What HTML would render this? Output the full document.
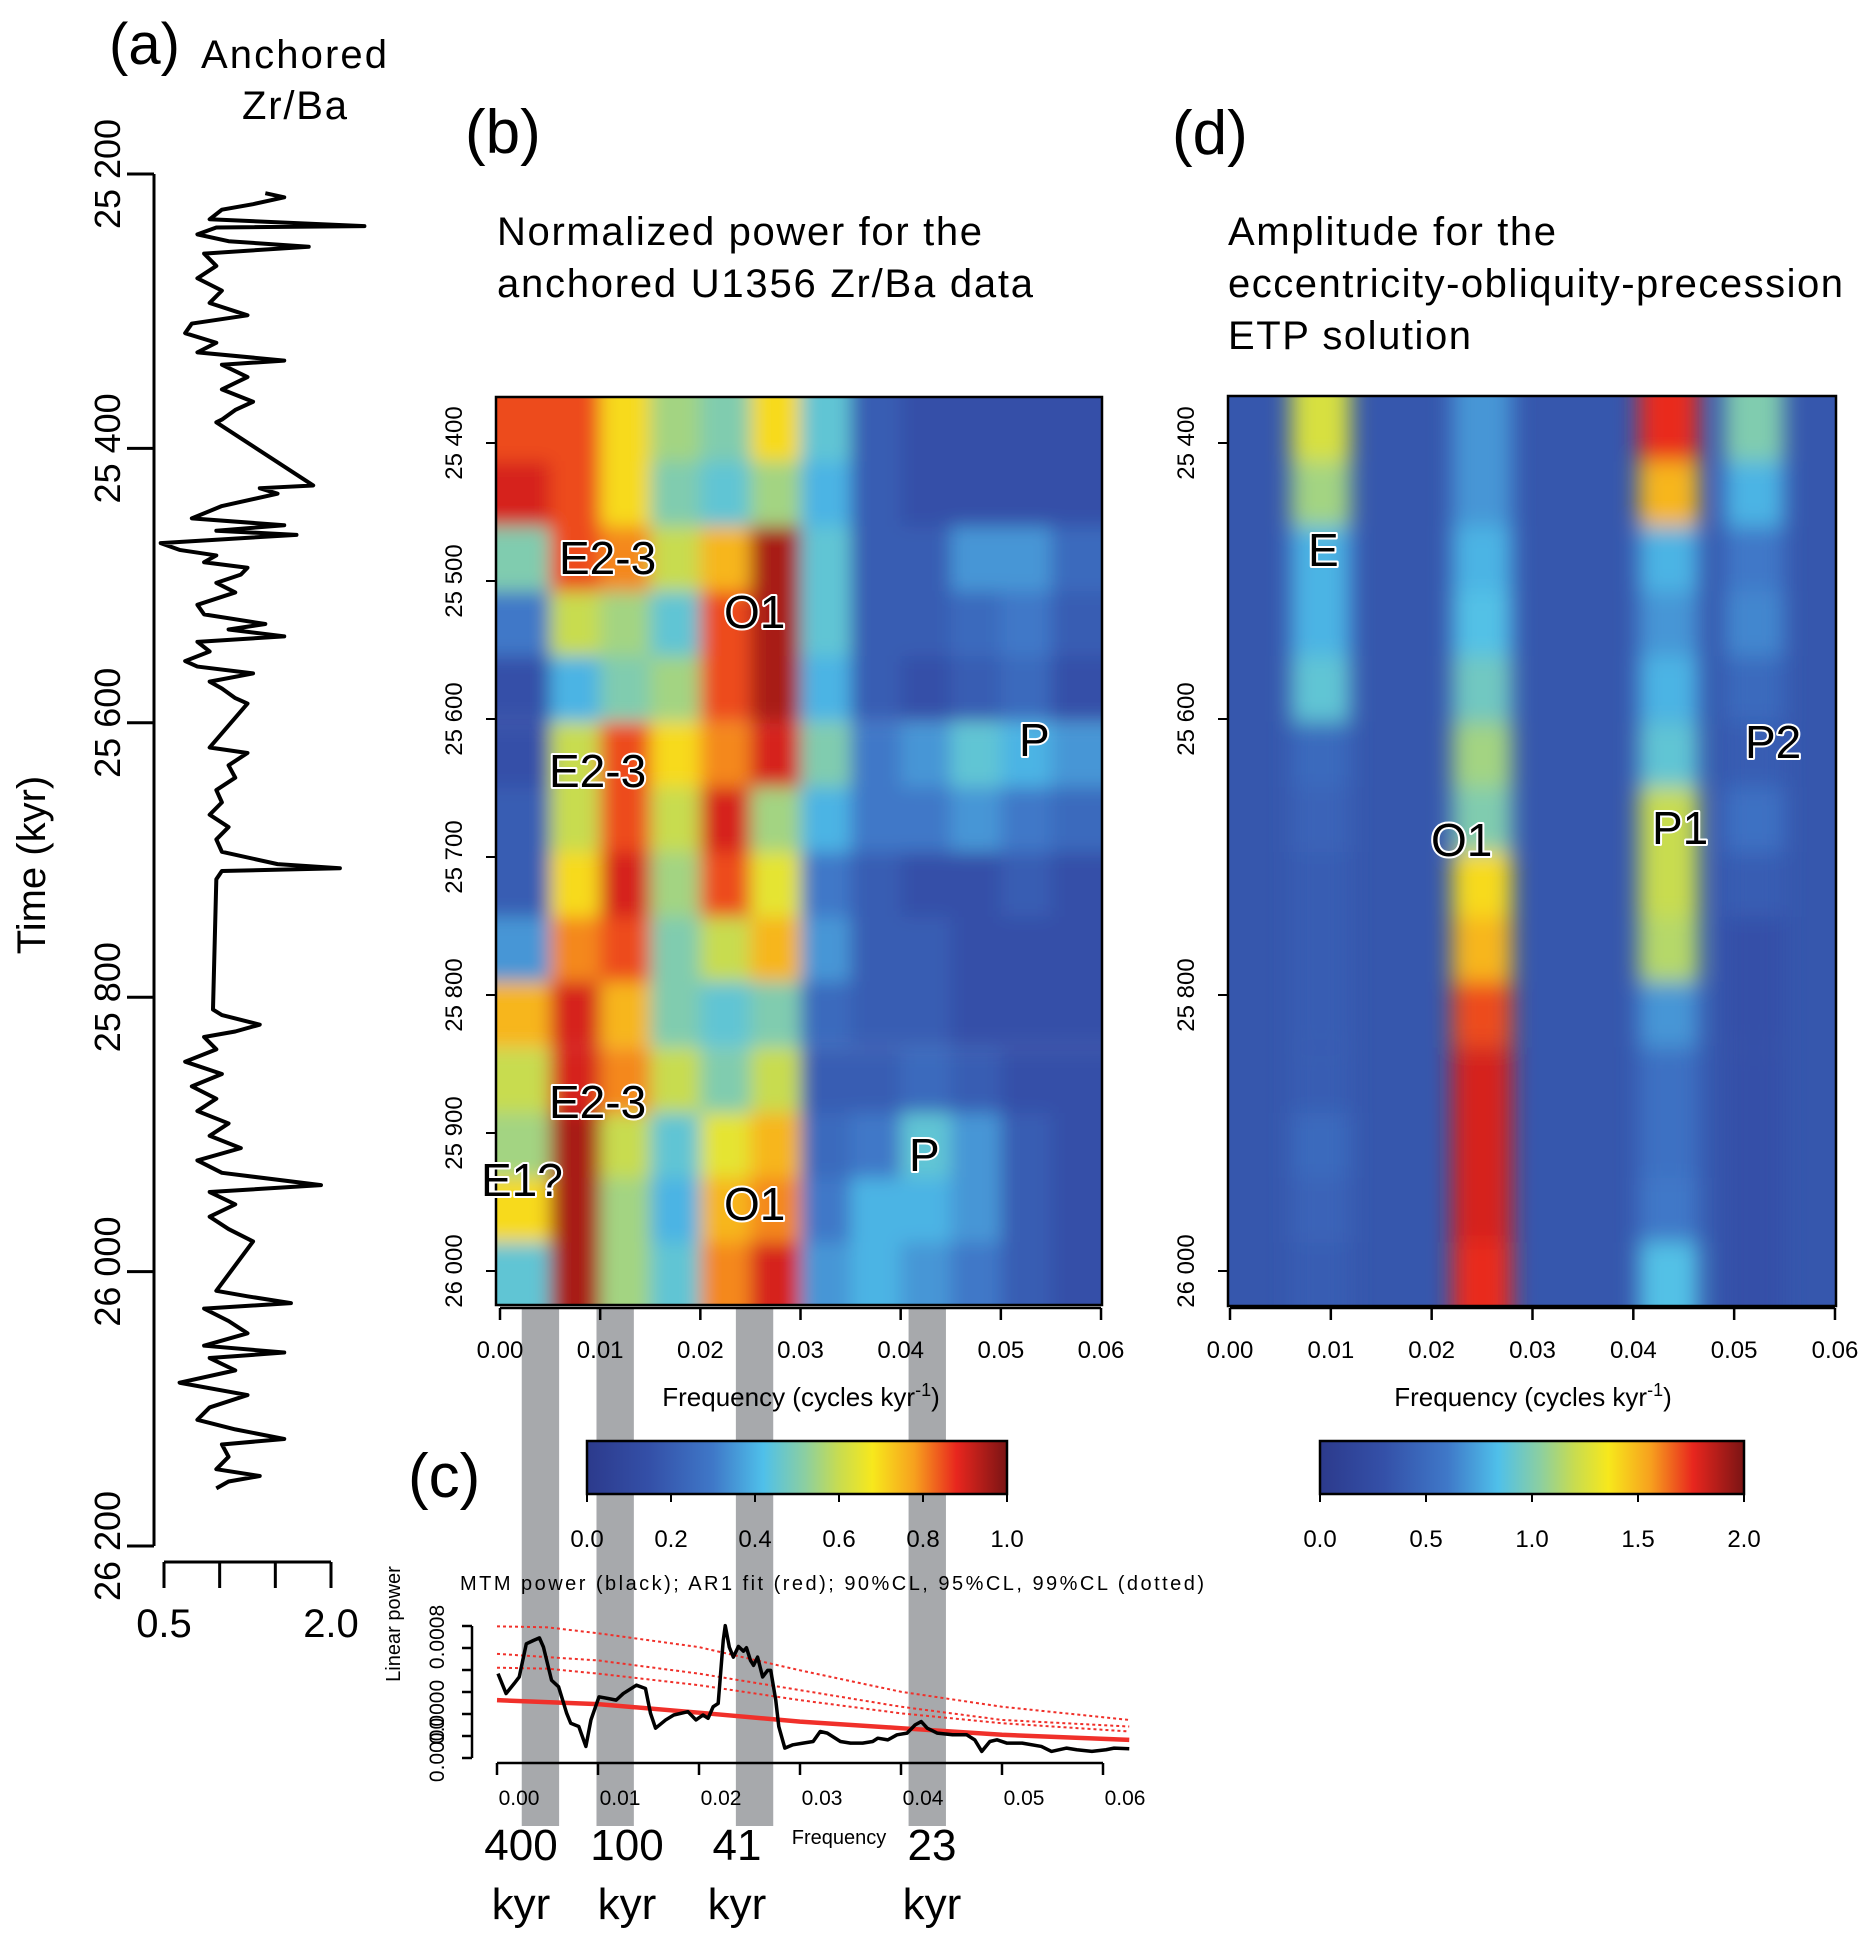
<!DOCTYPE html>
<html><head><meta charset="utf-8"><style>
html,body{margin:0;padding:0;background:#fff}
svg{display:block}
text{font-family:"Liberation Sans",sans-serif;fill:#000}
.lab{font-size:46px;stroke:#fff;stroke-width:4px;paint-order:stroke;stroke-linejoin:round}
</style></head><body>
<svg id="fig" xmlns="http://www.w3.org/2000/svg" width="1874" height="1942" viewBox="0 0 1874 1942">
<defs>
<filter id="blurB" x="-5%" y="-5%" width="110%" height="110%"><feGaussianBlur stdDeviation="9"/></filter>
<filter id="blurD" x="-5%" y="-5%" width="110%" height="110%"><feGaussianBlur stdDeviation="11"/></filter>
<clipPath id="clipB"><rect x="496" y="397" width="606" height="908"/></clipPath>
<clipPath id="clipD"><rect x="1228" y="396" width="608" height="910"/></clipPath>
<linearGradient id="cmap" x1="0" x2="1" y1="0" y2="0">
<stop offset="0" stop-color="#2c3a8c"/><stop offset="0.15" stop-color="#3450a8"/><stop offset="0.3" stop-color="#3f78c8"/><stop offset="0.42" stop-color="#4fc0ea"/><stop offset="0.52" stop-color="#8ccfa0"/><stop offset="0.6" stop-color="#c8dc50"/><stop offset="0.68" stop-color="#f7e81c"/><stop offset="0.78" stop-color="#f7a01e"/><stop offset="0.88" stop-color="#e8261e"/><stop offset="1" stop-color="#7a1414"/>
</linearGradient>
</defs>
<g id="bars"></g>

<!-- panel a text -->
<text x="109" y="64" font-size="58">(a)</text>
<text x="201" y="68" font-size="40" textLength="186">Anchored</text>
<text x="242" y="119" font-size="40" textLength="105">Zr/Ba</text>
<text x="0" y="0" font-size="40" text-anchor="middle" transform="translate(45,865) rotate(-90)">Time (kyr)</text>

<!-- panel b text -->
<text x="465" y="153" font-size="62">(b)</text>
<text x="497" y="245" font-size="40" textLength="485">Normalized power for the</text>
<text x="497" y="297" font-size="40" textLength="536">anchored U1356 Zr/Ba data</text>
<text x="801" y="1406" font-size="26" text-anchor="middle">Frequency (cycles kyr<tspan dy="-10" font-size="18">-1</tspan><tspan dy="10">)</tspan></text>

<!-- panel d text -->
<text x="1172" y="154" font-size="62">(d)</text>
<text x="1228" y="245" font-size="40" textLength="328">Amplitude for the</text>
<text x="1228" y="297" font-size="40" textLength="615">eccentricity-obliquity-precession</text>
<text x="1228" y="349" font-size="40" textLength="243">ETP solution</text>
<text x="1533" y="1406" font-size="26" text-anchor="middle">Frequency (cycles kyr<tspan dy="-10" font-size="18">-1</tspan><tspan dy="10">)</tspan></text>

<!-- panel c text -->
<text x="408" y="1497" font-size="62">(c)</text>
<text x="460" y="1590" font-size="20" textLength="744">MTM power (black); AR1 fit (red); 90%CL, 95%CL, 99%CL (dotted)</text>
<text x="0" y="0" font-size="20" text-anchor="middle" transform="translate(400,1624) rotate(-90)">Linear power</text>
<text x="0" y="0" font-size="21" text-anchor="middle" transform="translate(444,1637) rotate(-90)">0.0008</text>
<text x="0" y="0" font-size="21" text-anchor="middle" transform="translate(444,1712) rotate(-90)">0.0000</text>
<text x="0" y="0" font-size="21" text-anchor="middle" transform="translate(444,1750) rotate(-90)">0.0000</text>
<g id="layer"></g>
</svg>
<script>
// ---------- data ----------
const aTime=[25214,25217,25222,25226,25233,25238,25239,25244,25249,25253,25258,25267,25276,25285,25294,25303,25309,25316,25323,25330,25336,25339,25348,25357,25366,25372,25379,25381,25427,25429,25433,25442,25451,25456,25460,25463,25469,25474,25478,25483,25487,25492,25498,25505,25514,25521,25528,25532,25537,25541,25548,25555,25559,25564,25570,25575,25582,25586,25618,25622,25631,25640,25649,25658,25667,25676,25685,25694,25703,25706,25708,25714,25809,25813,25820,25825,25829,25838,25847,25856,25865,25874,25883,25892,25901,25910,25919,25928,25937,25942,25951,25960,25969,25978,26014,26018,26023,26027,26036,26045,26054,26059,26063,26072,26081,26090,26099,26108,26115,26122,26126,26135,26144,26149,26153,26158];
const aZrBa=[1.41,1.58,1.30,1.02,0.91,2.30,0.97,0.80,1.08,1.80,0.86,0.97,0.80,1.02,0.91,1.25,0.75,0.69,0.97,0.80,1.58,1.02,1.25,1.02,1.30,1.14,1.02,0.97,1.84,1.36,1.52,1.02,0.75,1.58,0.97,1.69,0.47,0.64,0.97,0.86,1.25,1.19,0.97,1.14,0.80,0.86,1.41,1.08,1.58,0.80,0.91,0.69,0.80,1.30,0.91,1.02,1.14,1.25,0.91,1.25,1.08,1.14,0.97,1.02,0.91,1.08,0.97,1.02,1.52,2.08,1.02,0.97,0.94,1.02,1.36,1.14,0.86,0.97,0.69,1.02,0.75,0.97,0.80,1.08,0.91,1.19,0.80,1.02,1.91,0.91,1.14,0.91,1.08,1.30,0.97,1.25,1.64,0.86,1.08,1.25,0.86,1.58,0.91,1.14,0.64,1.25,0.91,0.80,1.14,1.58,1.02,1.08,0.97,1.36,1.08,0.97];
const aTicks=[25200,25400,25600,25800,26000,26200];
const aTickLabels=["25 200","25 400","25 600","25 800","26 000","26 200"];
const aValTicks=[0.5,1.0,1.5,2.0];

const bFreq=[0.0025,0.0075,0.0125,0.0175,0.0225,0.0275,0.0325,0.0375,0.0425,0.0475,0.0525,0.0575];
const bTime=[25390,25437,25484,25531,25578,25626,25673,25720,25767,25814,25862,25909,25956,26003];
const bPower=[
[.85,.85,.7,.55,.5,.7,.45,.2,.15,.15,.15,.15],
[.9,.85,.7,.5,.45,.55,.4,.2,.15,.15,.15,.15],
[.5,.85,.8,.6,.75,.95,.45,.2,.2,.35,.35,.25],
[.3,.6,.55,.45,.85,.95,.45,.2,.2,.25,.3,.2],
[.15,.4,.5,.55,.85,.95,.4,.2,.15,.2,.25,.15],
[.15,.6,.85,.7,.8,.9,.5,.3,.35,.45,.4,.35],
[.2,.6,.85,.6,.9,.55,.4,.3,.3,.35,.3,.25],
[.2,.7,.9,.55,.85,.65,.3,.2,.15,.15,.2,.15],
[.35,.8,.85,.5,.6,.75,.35,.2,.2,.15,.15,.15],
[.75,.9,.75,.5,.45,.5,.25,.2,.2,.15,.15,.15],
[.6,.9,.8,.6,.5,.6,.2,.2,.25,.2,.15,.15],
[.55,.95,.6,.45,.65,.75,.25,.3,.45,.35,.2,.15],
[.7,.95,.55,.4,.75,.8,.3,.4,.4,.35,.2,.15],
[.45,.95,.55,.45,.8,.9,.35,.4,.35,.3,.2,.15]];
const bTicks=[25400,25500,25600,25700,25800,25900,26000];
const bTickLabels=["25 400","25 500","25 600","25 700","25 800","25 900","26 000"];
const freqTicks=[0,0.01,0.02,0.03,0.04,0.05,0.06];
const freqTickLabels=["0.00","0.01","0.02","0.03","0.04","0.05","0.06"];

const dBandFreq=[0.009,0.025,0.0435,0.052];
const dBandNames=["E","O1","P1","P2"];
const dBackground=0.35;
const dAmpE=[1.25,1.1,0.8,0.8,0.9,0.5,0.45,0.4,0.4,0.4,0.4,0.5,0.45,0.4];
const dAmpO1=[0.7,0.7,0.8,0.85,0.95,1.1,1.0,1.4,1.5,1.7,1.8,1.8,1.8,1.75];
const dAmpP1=[1.75,1.5,0.8,0.7,0.8,0.9,1.2,1.2,1.15,0.7,0.55,0.55,0.6,0.85];
const dAmpP2=[1.0,0.8,0.6,0.65,0.5,0.4,0.55,0.4,0.3,0.3,0.3,0.3,0.3,0.3];
const dTicks=[25400,25600,25800,26000];
const dTickLabels=["25 400","25 600","25 800","26 000"];

const cFreq=[.0001,.0009,.0017,.0022,.0029,.0036,.0042,.0046,.0054,.0061,.0069,.0073,.0081,.0088,.0093,.0101,.0110,.0118,.0125,.0138,.0147,.0152,.0157,.0167,.0175,.0189,.0197,.0204,.0209,.0214,.0219,.0224,.0226,.0230,.0234,.0239,.0244,.0247,.0251,.0254,.0258,.0263,.0268,.0271,.0276,.0279,.0285,.0293,.0303,.0313,.0320,.0327,.0340,.0350,.0362,.0372,.0377,.0387,.0396,.0406,.0414,.0420,.0426,.0436,.0451,.0465,.0473,.0480,.0488,.0495,.0505,.0520,.0539,.0549,.0564,.0574,.0589,.0603,.0611,.0626];
const cPower=[7.67,5.86,6.77,7.37,10.38,10.68,10.92,10.08,7.07,6.47,4.06,3.16,2.86,1.05,3.46,5.56,5.41,5.26,5.86,6.62,6.32,4.06,2.71,3.46,3.91,4.21,3.46,3.91,3.61,4.66,4.96,10.68,12.03,10.08,9.17,10.14,9.71,10.02,8.87,8.42,9.17,7.37,7.97,7.97,5.26,2.86,0.90,1.20,1.35,1.50,2.41,2.26,1.50,1.35,1.35,1.50,1.80,1.65,2.11,2.26,3.01,3.31,2.71,2.26,2.11,2.11,1.65,0.60,1.50,1.65,1.35,1.35,1.05,0.60,0.90,0.75,0.60,0.75,0.90,0.84];
const clFreq=[0,0.005,0.01,0.02,0.03,0.04,0.05,0.0626];
const cl99=[11.97,11.88,11.34,10.08,7.97,6.02,4.66,3.46];
const cl95=[9.47,9.17,8.87,7.67,6.17,4.66,3.46,2.86];
const cl90=[8.21,8.12,7.67,6.62,5.26,4.06,3.16,2.41];
const arFreq=[0,0.01,0.02,0.03,0.04,0.05,0.0626];
const arFit=[5.26,4.9,4.12,3.31,2.71,2.11,1.65];
const periodFreq=[0.0043,0.0117,0.0255,0.0426];
const periodLabels=["400","100","41","23"];
const cbBTicks=[0,0.2,0.4,0.6,0.8,1.0];
const cbBLabels=["0.0","0.2","0.4","0.6","0.8","1.0"];
const cbDTicks=[0,0.5,1.0,1.5,2.0];
const cbDLabels=["0.0","0.5","1.0","1.5","2.0"];

// ---------- scales ----------
const NS="http://www.w3.org/2000/svg";
const L=document.getElementById('layer');
const BARS=document.getElementById('bars');
function mk(tag,attrs,parent){const e=document.createElementNS(NS,tag);for(const k in attrs)e.setAttribute(k,attrs[k]);(parent||L).appendChild(e);return e;}
const ya=t=>174+(t-25200)*1.372;
const xa=v=>164+(v-0.5)*111.33;
const yb=t=>443+(t-25400)*1.38;
const xb=f=>500+f*10017;
const xd=f=>1230+f*10083;
const xc=f=>497+f*10100;
const yc=v=>1758-v*11;
const stops=[[0,[44,58,140]],[0.15,[52,80,168]],[0.3,[63,120,200]],[0.42,[79,192,234]],[0.52,[140,207,160]],[0.6,[200,220,80]],[0.68,[247,232,28]],[0.78,[247,160,30]],[0.88,[232,38,30]],[1,[122,20,20]]];
function col(v){v=Math.max(0,Math.min(1,v));for(let i=1;i<stops.length;i++){if(v<=stops[i][0]){const a=stops[i-1],b=stops[i];const u=(v-a[0])/(b[0]-a[0]);const c=a[1].map((x,j)=>Math.round(x+(b[1][j]-x)*u));return `rgb(${c})`;}}return 'rgb(122,20,20)';}

let e;
// ---------- period bars (behind everything) ----------
periodFreq.forEach((f,i)=>{
  e=mk('rect',{x:xc(f-0.00185),y:1307,width:0.0037*10100,height:519,fill:'#a7a9ac'},BARS);
  
  
});

// ---------- panel a ----------
e=mk('line',{x1:154,y1:ya(25200),x2:154,y2:ya(26200),stroke:'#000','stroke-width':3});


aTicks.forEach((t,i)=>{
  e=mk('line',{x1:127,y1:ya(t),x2:154,y2:ya(t),stroke:'#000','stroke-width':3});
  
  
  e=mk('text',{x:0,y:0,'font-size':36,'text-anchor':'middle',transform:`translate(120,${ya(t)}) rotate(-90)`});
  e.textContent=aTickLabels[i];
  
  
});
e=mk('line',{x1:xa(0.5),y1:1562,x2:xa(2.0),y2:1562,stroke:'#000','stroke-width':3});


aValTicks.forEach(v=>{
  e=mk('line',{x1:xa(v),y1:1562,x2:xa(v),y2:1588,stroke:'#000','stroke-width':3});
  
  
});
[[0.5,"0.5"],[2.0,"2.0"]].forEach(p=>{
  e=mk('text',{x:xa(p[0]),y:1637,'font-size':40,'text-anchor':'middle'});
  e.textContent=p[1];
  
  
});
e=mk('polyline',{points:aTime.map((t,i)=>xa(aZrBa[i])+','+ya(t)).join(' '),fill:'none',stroke:'#000','stroke-width':4,'stroke-linejoin':'round'});



// ---------- panel b heatmap ----------
const gB=mk('g',{'clip-path':'url(#clipB)'});


const gBi=mk('g',{filter:'url(#blurB)'},gB);
bTime.forEach((t,r)=>{bFreq.forEach((f,c)=>{
  let x0=xb(f-0.0025),x1=xb(f+0.0025),y0=yb(t-23.6),y1=yb(t+23.6);
  if(c===0)x0-=30; if(c===bFreq.length-1)x1+=30; if(r===0)y0-=30; if(r===bTime.length-1)y1+=30;
  e=mk('rect',{x:x0,y:y0,width:x1-x0+0.5,height:y1-y0+0.5,fill:col(bPower[r][c])},gBi);
  
  
});});
e=mk('rect',{x:496,y:397,width:606,height:908,fill:'none',stroke:'#000','stroke-width':2.5});


bTicks.forEach((t,i)=>{
  e=mk('line',{x1:486,y1:yb(t),x2:496,y2:yb(t),stroke:'#000','stroke-width':2});
  
  
  e=mk('text',{x:0,y:0,'font-size':24,'text-anchor':'middle',transform:`translate(462,${yb(t)}) rotate(-90)`});
  e.textContent=bTickLabels[i];
  
  
});

// ---------- panel d heatmap ----------
const gD=mk('g',{'clip-path':'url(#clipD)'});


e=mk('rect',{x:1228,y:396,width:608,height:910,fill:col(dBackground/2)},gD);


const gDi=mk('g',{filter:'url(#blurD)'},gD);
const dAmps=[dAmpE,dAmpO1,dAmpP1,dAmpP2];
dBandFreq.forEach((f,k)=>{bTime.forEach((t,r)=>{
  let y0=yb(t-23.6),y1=yb(t+23.6);
  if(r===0)y0-=30; if(r===bTime.length-1)y1+=30;
  const x0=xd(f-0.003),x1=xd(f+0.003);
  e=mk('rect',{x:x0,y:y0,width:x1-x0,height:y1-y0+0.5,fill:col(dAmps[k][r]/2)},gDi);
  
  
});});
e=mk('rect',{x:1228,y:396,width:608,height:910,fill:'none',stroke:'#000','stroke-width':2.5});


dTicks.forEach((t,i)=>{
  e=mk('line',{x1:1218,y1:yb(t),x2:1228,y2:yb(t),stroke:'#000','stroke-width':2});
  
  
  e=mk('text',{x:0,y:0,'font-size':24,'text-anchor':'middle',transform:`translate(1194,${yb(t)}) rotate(-90)`});
  e.textContent=dTickLabels[i];
  
  
});

// frequency axes b, d
[[xb,'b'],[xd,'d']].forEach(([sx,p])=>{
  e=mk('line',{x1:sx(0),y1:1308,x2:sx(0.06),y2:1308,stroke:'#000','stroke-width':2.5});
  
  
  freqTicks.forEach((f,i)=>{
    e=mk('line',{x1:sx(f),y1:1308,x2:sx(f),y2:1320,stroke:'#000','stroke-width':2.5});
    
    
    e=mk('text',{x:sx(f),y:1358,'font-size':24,'text-anchor':'middle'});
    e.textContent=freqTickLabels[i];
    
    
  });
});

// heatmap labels
[["E2-3",559,574],["O1",724,628],["E2-3",549,787],["E2-3",549,1118],["E1?",481,1196],["O1",724,1220],["P",1019,756],["P",909,1171]].forEach(l=>{
  e=mk('text',{x:l[1],y:l[2],class:'lab'});
  e.textContent=l[0];
  
  
});
[["E",1308,566],["O1",1431,856],["P1",1652,844],["P2",1745,758]].forEach(l=>{
  e=mk('text',{x:l[1],y:l[2],class:'lab'});
  e.textContent=l[0];
  
  
});

// colorbars
function colorbar(x0,x1,ticks,labels,max,name){
  e=mk('rect',{x:x0,y:1441,width:x1-x0,height:53,fill:'url(#cmap)',stroke:'#000','stroke-width':2.5});
  
  
  ticks.forEach((v,i)=>{
    const x=x0+(x1-x0)*v/max;
    e=mk('line',{x1:x,y1:1494,x2:x,y2:1502,stroke:'#000','stroke-width':2});
    
    
    e=mk('text',{x:x,y:1547,'font-size':24,'text-anchor':'middle'});
    e.textContent=labels[i];
    
    
  });
}
colorbar(587,1007,cbBTicks,cbBLabels,1,'colorbar-b');
colorbar(1320,1744,cbDTicks,cbDLabels,2,'colorbar-d');

// ---------- panel c ----------
e=mk('line',{x1:472,y1:1626,x2:472,y2:1758,stroke:'#000','stroke-width':2.5});


[0,2,4,6,8,10,12].forEach(v=>{
  e=mk('line',{x1:462,y1:yc(v),x2:472,y2:yc(v),stroke:'#000','stroke-width':2.5});
  
  
});
e=mk('line',{x1:xc(0),y1:1763,x2:xc(0.06),y2:1763,stroke:'#000','stroke-width':2.5});


freqTicks.forEach((f,i)=>{
  e=mk('line',{x1:xc(f),y1:1763,x2:xc(f),y2:1775,stroke:'#000','stroke-width':2.5});
  
  
  e=mk('text',{x:xc(f)+22,y:1805,'font-size':21,'text-anchor':'middle'});
  e.textContent=freqTickLabels[i];
  
  
});
[[cl99,'cl99-line'],[cl95,'cl95-line'],[cl90,'cl90-line']].forEach(([arr,n])=>{
  e=mk('polyline',{points:clFreq.map((f,i)=>xc(f)+','+yc(arr[i])).join(' '),fill:'none',stroke:'#f0302a','stroke-width':2,'stroke-dasharray':'3 3'});
  
  
});
e=mk('polyline',{points:arFreq.map((f,i)=>xc(f)+','+yc(arFit[i])).join(' '),fill:'none',stroke:'#f0302a','stroke-width':4.5});


e=mk('polyline',{points:cFreq.map((f,i)=>xc(f)+','+yc(cPower[i])).join(' '),fill:'none',stroke:'#000','stroke-width':3.5,'stroke-linejoin':'round'});


e=mk('text',{x:839,y:1844,'font-size':20,'text-anchor':'middle'});
e.textContent='Frequency';


periodFreq.forEach((f,i)=>{
  const cx=[521,627,737,932][i];
  e=mk('text',{x:cx,y:1860,'font-size':44,'text-anchor':'middle',fill:'#231f20'});
  e.textContent=periodLabels[i];
  
  
  e=mk('text',{x:cx,y:1919,'font-size':44,'text-anchor':'middle',fill:'#231f20'});
  e.textContent='kyr';
  
  
});
</script>
</body></html>
